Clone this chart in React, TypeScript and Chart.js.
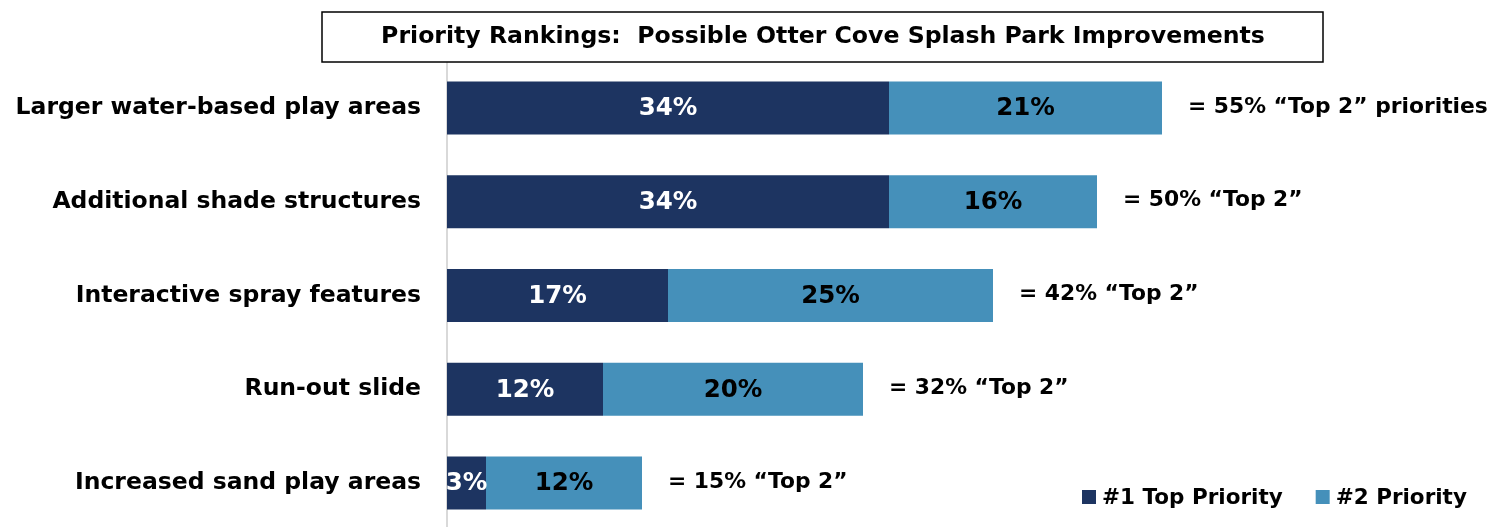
import React, { useEffect, useRef } from "react";
import { Chart, registerables } from "chart.js";

Chart.register(...registerables);

const TITLE = "Priority Rankings:  Possible Otter Cove Splash Park Improvements";
const categories = [
  "Larger water-based play areas",
  "Additional shade structures",
  "Interactive spray features",
  "Run-out slide",
  "Increased sand play areas",
];
const topPriority = [34, 34, 17, 12, 3];
const secondPriority = [21, 16, 25, 20, 12];
const totalSuffixes = [" \u201CTop 2\u201D priorities", " \u201CTop 2\u201D", " \u201CTop 2\u201D", " \u201CTop 2\u201D", " \u201CTop 2\u201D"];
const seriesNames = ["#1 Top Priority", "#2 Priority"];
const seriesColors = ["#1D3461", "#4590BA"];
const labelColors = ["#FFFFFF", "#000000"];

const FONT = "'DejaVu Sans', Verdana, sans-serif";

const overlayPlugin = {
  id: "overlay",
  afterDatasetsDraw(chart: any) {
    const ctx = chart.ctx;
    ctx.save();
    // title box
    ctx.strokeStyle = "#000";
    ctx.lineWidth = 1.5;
    ctx.fillStyle = "#fff";
    ctx.fillRect(322, 12, 1001, 50);
    ctx.strokeRect(322, 12, 1001, 50);
    ctx.fillStyle = "#000";
    ctx.font = `bold 23.6px ${FONT}`;
    ctx.textAlign = "center";
    ctx.textBaseline = "middle";
    ctx.fillText(TITLE, 823, 37);

    // data labels
    ctx.font = `bold 24.5px ${FONT}`;
    chart.data.datasets.forEach((ds: any, di: number) => {
      const meta = chart.getDatasetMeta(di);
      meta.data.forEach((bar: any, i: number) => {
        const v = ds.data[i];
        ctx.fillStyle = labelColors[di];
        ctx.textAlign = "center";
        ctx.fillText(v + "%", (bar.x + bar.base) / 2, bar.y + 1);
      });
    });

    // totals
    const last = chart.getDatasetMeta(chart.data.datasets.length - 1);
    ctx.font = `bold 21.8px ${FONT}`;
    ctx.fillStyle = "#000";
    ctx.textAlign = "left";
    last.data.forEach((bar: any, i: number) => {
      const total = topPriority[i] + secondPriority[i];
      ctx.fillText("= " + total + "%" + totalSuffixes[i], bar.x + 26, bar.y - 1);
    });

    // legend
    ctx.font = `bold 21.5px ${FONT}`;
    let x = 1082;
    const y = 497;
    seriesNames.forEach((name, i) => {
      ctx.fillStyle = seriesColors[i];
      ctx.fillRect(x, y - 7, 14, 14);
      ctx.fillStyle = "#000";
      ctx.textAlign = "left";
      ctx.fillText(name, x + 20, y + 1);
      x += 20 + ctx.measureText(name).width + 33;
    });
    ctx.restore();
  },
};

export default function App() {
  const ref = useRef<HTMLCanvasElement | null>(null);
  useEffect(() => {
    if (!ref.current) return;
    const chart = new Chart(ref.current, {
      type: "bar",
      data: {
        labels: categories,
        datasets: [
          { label: seriesNames[0], data: topPriority, backgroundColor: seriesColors[0], borderWidth: 0 },
          { label: seriesNames[1], data: secondPriority, backgroundColor: seriesColors[1], borderWidth: 0 },
        ],
      },
      options: {
        indexAxis: "y",
        animation: false,
        responsive: false,
        devicePixelRatio: 1,
        layout: { autoPadding: false, padding: { top: 61, right: 10, bottom: 1, left: 0 } },
        datasets: { bar: { categoryPercentage: 1, barPercentage: 0.565 } },
        plugins: { legend: { display: false }, tooltip: { enabled: false }, title: { display: false } },
        scales: {
          x: { stacked: true, min: 0, max: 80, display: false },
          y: {
            stacked: true,
            grid: { display: false, drawTicks: false },
            border: { display: true, color: "#D9D9D9", width: 2 },
            ticks: { color: "#000", padding: 26, font: { family: FONT, size: 23.5, weight: "bold" } },
            afterFit: (s: any) => {
              s.width = 447;
              s.paddingTop = 0;
              s.paddingBottom = 0;
            },
          },
        },
      } as any,
      plugins: [overlayPlugin],
    });
    return () => chart.destroy();
  }, []);
  return (
    <div style={{ position: "fixed", left: 0, top: 0, width: 1497, height: 527, overflow: "hidden", background: "#fff" }}>
      <canvas ref={ref} width={1497} height={531} style={{ display: "block" }} />
    </div>
  );
}
